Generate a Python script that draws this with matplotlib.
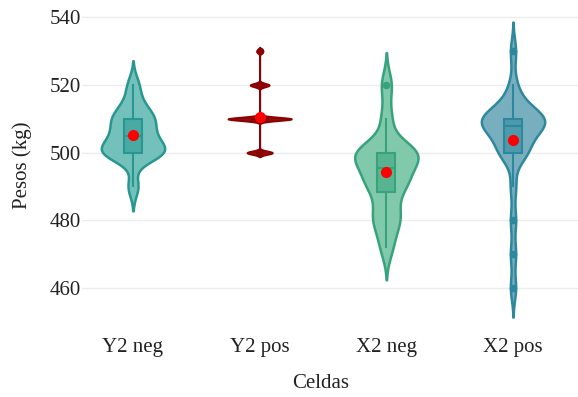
import numpy as np
import matplotlib
matplotlib.use("Agg")
import matplotlib.pyplot as plt

# Datos (pesos en kg) por celda
celdas = ["Y2 neg", "Y2 pos", "X2 neg", "X2 pos"]
pesos_y2_neg = [490, 500, 500, 500, 500, 500, 503, 505, 505, 508, 510, 510, 512, 515, 520]
pesos_y2_pos = [500, 500, 500, 500, 510, 510, 510, 510, 510, 510, 510, 510, 510, 510,
                520, 520, 520, 530]
pesos_x2_neg = [472, 478, 481, 483, 490, 490, 492, 494, 497, 500, 500, 500, 500, 500, 510, 520]
pesos_x2_pos = [460, 470, 480, 490, 500, 500, 500, 500, 503, 505, 506, 507, 508, 508, 509,
                510, 510, 510, 510, 510, 511, 512, 514, 516, 520, 530]
grupos = [pesos_y2_neg, pesos_y2_pos, pesos_x2_neg, pesos_x2_pos]

# Estilo de cada violin
anchos_banda = [3.0, 0.5, 4.0, 3.6]
grosor_linea = [1.8, 1.3, 1.8, 1.8]
color_linea = ["#27978f", "#8b0000", "#38a27c", "#2e889d"]
color_relleno = ["#74c1bc", "#950a0a", "#80c9aa", "#78afbf"]

plt.rcParams["font.family"] = ["Liberation Serif", "DejaVu Serif"]

fig = plt.figure(figsize=(5.78, 3.97), dpi=100)
ax = fig.add_axes([82 / 578, 1 - 320 / 397, 496 / 578, 312 / 397])


def densidad(valores, bw, y):
    v = np.asarray(valores, dtype=float)[:, None]
    return np.exp(-0.5 * ((y[None, :] - v) / bw) ** 2).sum(axis=0)


# Violines
for i, datos in enumerate(grupos):
    bw = anchos_banda[i]
    y = np.linspace(min(datos) - 2.4 * bw, max(datos) + 2.4 * bw, 500)
    d = densidad(datos, bw, y)
    w = d / d.max() * 0.25
    ax.fill_betweenx(y, i - w, i + w, facecolor=color_relleno[i],
                     edgecolor=color_linea[i], linewidth=grosor_linea[i], zorder=2)

# Cajas dentro de los violines
for i, datos in enumerate(grupos):
    c = color_linea[i]
    ax.boxplot([datos], positions=[i], widths=0.14, patch_artist=True,
               showcaps=False, whis=1.5,
               boxprops=dict(facecolor=matplotlib.colors.to_rgba(c, 0.55), edgecolor=c, linewidth=1.5),
               whiskerprops=dict(color=c, linewidth=1.5),
               medianprops=dict(color=c, linewidth=1.5),
               flierprops=dict(marker="o", markersize=4.5, markerfacecolor=c,
                               markeredgecolor=c),
               zorder=3)

# Medias
medias = [np.mean(g) for g in grupos]
ax.plot(range(len(grupos)), medias, "o", color="red", markersize=7, zorder=5)

ax.set_xlim(-0.4026, 3.513)
ax.set_ylim(450.5, 542.8)
ax.set_yticks([460, 480, 500, 520, 540])
ax.set_xticks(range(len(celdas)))
ax.set_xticklabels(celdas)
ax.tick_params(length=0, labelsize=15, colors="#222222")
ax.tick_params(axis="x", pad=13)
ax.tick_params(axis="y", pad=1)
for s in ax.spines.values():
    s.set_visible(False)
ax.grid(axis="y", color="#ececec", linewidth=1)
ax.set_axisbelow(True)

fig.text(321 / 578, 1 - 383 / 397, "Celdas", ha="center", va="center",
         fontsize=15, color="#222222")
fig.text(22 / 578, 1 - 165 / 397, "Pesos (kg)", ha="center", va="center",
         rotation=90, fontsize=15, color="#222222")

fig.savefig("out.png", dpi=100)
